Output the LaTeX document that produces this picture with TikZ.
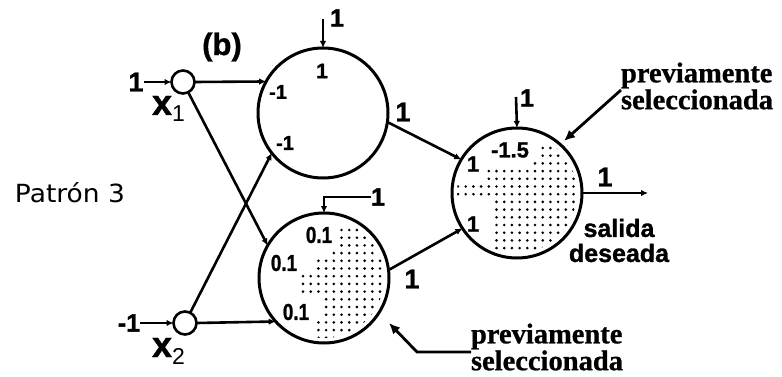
\documentclass[tikz,border=0pt]{standalone}
\usepackage{fontspec}
\usetikzlibrary{arrows.meta}
\newfontfamily\lsans{Liberation Sans}[BoldFeatures={FakeBold=1.2}]
\newfontfamily\lserif{Liberation Serif}[BoldFeatures={FakeBold=0.8}]
\newfontfamily\dsans{DejaVu Sans}
\newcommand{\fs}[1]{\fontsize{#1}{#1}\selectfont}
\begin{document}
\begin{tikzpicture}[x=1pt,y=-1pt,
  neuron/.style={circle,draw,line width=3pt,minimum size=130pt,inner sep=0pt,outer sep=0pt},
  inp/.style={circle,draw,line width=2.6pt,minimum size=23pt,inner sep=0pt,outer sep=0pt},
  conn/.style={line width=2.6pt,-{Latex[length=7pt,width=6.5pt]}},
  note/.style={line width=2.8pt,-{Latex[length=11pt,width=10pt]}},
  lbl/.style={inner sep=0pt,outer sep=0pt,font=\lsans\bfseries},
  dot/.style={fill=black}
]
\useasboundingbox (0,0) rectangle (782,377);

% dotted regions
\begin{scope}
  \clip (324,278) circle (60pt);
  \foreach \yy/\jj in {230/5,237.7/5,245.4/5,253.1/4,260.8/2,268.5/2,276.2/0,283.9/0,291.6/0,299.3/3,307/3,314.7/3,322.4/2,330.1/2,337.8/2}
    \foreach \k in {\jj,...,14} \fill[dot] (303+7.7*\k,\yy) circle (1.45pt);
\end{scope}
\begin{scope}
  \clip (517,193) circle (60pt);
  \foreach \yy/\jj in {148/11,155.7/11,163.4/10,171.1/4,178.8/4,186.5/0,194.2/0,201.9/5,209.6/5,217.3/5,225/5,232.7/5,240.4/5,248.1/5,255.8/5}
    \foreach \k in {\jj,...,18} \fill[dot] (458+7.7*\k,\yy) circle (1.45pt);
\end{scope}

% neurons
\node[neuron] (h1) at (323,113) {};
\node[neuron] (h2) at (324,278) {};
\node[neuron] (out) at (517,193) {};
\node[inp] (x1) at (183,82) {};
\node[inp] (x2) at (185,323) {};

% texts
\node[lbl,font=\lsans\bfseries\fs{31}] (b) at (222,47) {(b)};
\node[inner sep=0pt,font=\dsans\fs{25}] (pat) at (70,193) {\scalebox{1.06}[1]{Patrón 3}};
\node[lbl,font=\lsans\bfseries\fs{27}] (in1) at (136,82) {1};
\node[lbl,font=\lsans\bfseries\fs{25}] (in2) at (129,323) {-1};
\node[lbl,anchor=base west] (lx1) at (152,115) {\fs{36}x{\mdseries\fs{23}\raisebox{-7pt}{1}}};
\node[lbl,anchor=base west] (lx2) at (152,357) {\fs{36}x{\mdseries\fs{23}\raisebox{-7pt}{2}}};

\node[lbl,font=\lsans\bfseries\fs{25}] (bh1) at (337,18) {1};
\coordinate (bh1s) at (323,19);
\node[lbl,font=\lsans\bfseries\fs{21}] (w11) at (322,71) {1};
\node[lbl,font=\lsans\bfseries\fs{20}] (w12) at (278,92) {-1};
\node[lbl,font=\lsans\bfseries\fs{20}] (w13) at (285,143) {-1};

\node[lbl,font=\lsans\bfseries\fs{25}] (bh2) at (378,197) {1};
\node[lbl,font=\lsans\bfseries\fs{23}] (w21) at (319,235) {\scalebox{0.82}[1]{0.1}};
\node[lbl,font=\lsans\bfseries\fs{23}] (w22) at (284,263) {\scalebox{0.82}[1]{0.1}};
\node[lbl,font=\lsans\bfseries\fs{23}] (w23) at (296,312) {\scalebox{0.82}[1]{0.1}};

\node[lbl,font=\lsans\bfseries\fs{27}] (c1) at (403,112) {1};
\node[lbl,font=\lsans\bfseries\fs{27}] (c2) at (412,279) {1};

\node[lbl,font=\lsans\bfseries\fs{25}] (bo) at (527,98) {1};
\coordinate (bos) at (516,97);
\node[lbl,font=\lsans\bfseries\fs{22}] (wo1) at (473,164) {1};
\node[lbl,font=\lsans\bfseries\fs{22}] (wo0) at (510,150) {-1.5};
\node[lbl,font=\lsans\bfseries\fs{22}] (wo2) at (473,224) {1};

\node[lbl,font=\lsans\bfseries\fs{27}] (ol) at (605,177) {1};
\coordinate (oend) at (648,193);
\node[lbl,align=center,font=\lsans\bfseries\fontsize{25}{25}\selectfont] (sal) at (619,240.5) {salida\\deseada};

\node[inner sep=0pt,outer sep=0pt,anchor=west,align=left,font=\lserif\bfseries\fontsize{28.5}{25}\selectfont] (pv1) at (621,86) {previamente\\seleccionada};
\node[inner sep=0pt,outer sep=0pt,anchor=west,align=left,font=\lserif\bfseries\fontsize{28.5}{25}\selectfont] (pv2) at (471,347) {previamente\\seleccionada};
\coordinate (n1t) at (564,141);
\coordinate (n2a) at (417,352);
\coordinate (n2t) at (389,323);

% connectors
\draw[conn] (in1.east) -- (x1.west);
\draw[conn] (in2.east) -- (x2.west);
\draw[conn] (x1.east) -- (h1.151.5);
\draw[conn] (x1.-63) -- (h2.150.8);
\draw[conn] (x2.63) -- (h1.218.4);
\draw[conn] (x2.east) -- (h2.222.6);
\draw[conn] (bh1s) -- (h1.north);
\draw[conn] (bh2.west) -| (h2.north);
\draw[conn] (h1.-8) -- (out.149);
\draw[conn] (h2.7) -- (out.213);
\draw[conn] (bos) -- (out.north);
\draw[conn] (out.east) -- (oend);
\draw[note] ([yshift=-4pt]pv1.west) -- (n1t);
\draw[note] ([yshift=-5pt]pv2.west) -- (n2a) -- (n2t);
\end{tikzpicture}
\end{document}
